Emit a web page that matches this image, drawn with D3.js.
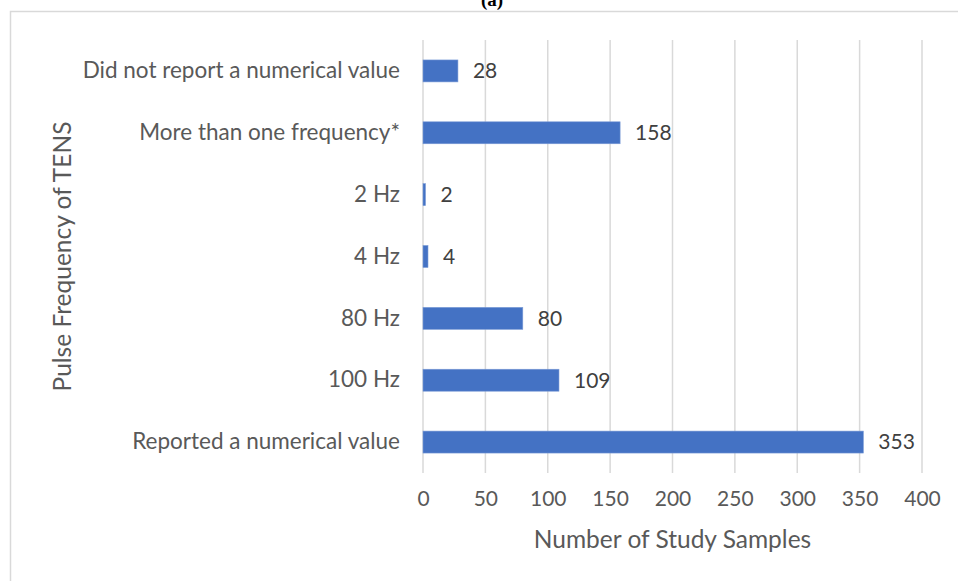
<!DOCTYPE html>
<html>
<head>
<meta charset="utf-8">
<script src="https://cdn.jsdelivr.net/npm/d3@7"></script>
<style>
  body { margin: 0; background: #fff; }
  svg { display: block; font-family: Lato, "Open Sans", sans-serif; }
</style>
</head>
<body>
<svg id="chart" width="958" height="581"></svg>
<script>
// data, top row first
const categories = ["Did not report a numerical value", "More than one frequency*", "2 Hz", "4 Hz", "80 Hz", "100 Hz", "Reported a numerical value"];
const samples = [28, 158, 2, 4, 80, 109, 353];
const xTicks = [0, 50, 100, 150, 200, 250, 300, 350, 400];

const svg = d3.select("#chart");
const margin = {top: 40, right: 36, bottom: 108, left: 423};
const width = 958 - margin.left - margin.right,
      height = 581 - margin.top - margin.bottom;
const font = "Lato, 'Open Sans', sans-serif";

// outer frame of the figure
svg.append("rect")
    .attr("x", 10.5).attr("y", 11.5)
    .attr("width", 1000).attr("height", 700)
    .attr("fill", "none")
    .attr("stroke", "#d9d9d9")
    .attr("stroke-width", 1.5);

// panel label cut at the top edge
svg.append("text")
    .attr("x", 492).attr("y", 6)
    .attr("text-anchor", "middle")
    .style("font", "bold 19px 'Liberation Serif', serif")
    .attr("fill", "#000")
    .text("(a)");

const g = svg.append("g").attr("transform", "translate(" + margin.left + "," + margin.top + ")");

const x = d3.scaleLinear().domain([0, 400]).range([0, width]);
const y = d3.scaleBand().domain(categories).range([0, height]).paddingInner(0.645).paddingOuter(0.3225);

// vertical gridlines
g.selectAll(".grid")
    .data(xTicks)
  .enter().append("line")
    .attr("class", "grid")
    .attr("x1", function(d) { return x(d); })
    .attr("x2", function(d) { return x(d); })
    .attr("y1", 0)
    .attr("y2", height)
    .attr("stroke", "#d9d9d9")
    .attr("stroke-width", 1.5);

// x tick labels
const xAxis = g.append("g")
    .attr("transform", "translate(0," + height + ")")
    .call(d3.axisBottom(x).tickValues(xTicks).tickSize(0).tickPadding(18))
    .attr("font-family", font)
    .attr("font-size", 21);
xAxis.select(".domain").remove();
xAxis.selectAll("text").attr("fill", "#595959");

// category labels
const yAxis = g.append("g")
    .call(d3.axisLeft(y).tickSize(0).tickPadding(23))
    .attr("font-family", font)
    .attr("font-size", 22.5);
yAxis.select(".domain").remove();
yAxis.selectAll("text").attr("fill", "#595959");

// bars
g.selectAll(".bar")
    .data(categories)
  .enter().append("rect")
    .attr("class", "bar")
    .attr("x", x(0))
    .attr("y", function(d) { return y(d); })
    .attr("width", function(d, i) { return x(samples[i]) - x(0); })
    .attr("height", y.bandwidth())
    .attr("fill", "#4472c4")
    .attr("stroke", "#7a9bd6")
    .attr("stroke-width", 0.6);

// value labels
g.selectAll(".value")
    .data(categories)
  .enter().append("text")
    .attr("class", "value")
    .attr("x", function(d, i) { return x(samples[i]) + 15; })
    .attr("y", function(d) { return y(d) + y.bandwidth() / 2; })
    .attr("dy", "0.35em")
    .style("font-size", "21px")
    .attr("fill", "#404040")
    .text(function(d, i) { return samples[i]; });

// axis titles
g.append("text")
    .attr("x", width / 2)
    .attr("y", height + 75)
    .attr("text-anchor", "middle")
    .style("font-size", "24.5px")
    .attr("fill", "#595959")
    .text("Number of Study Samples");

g.append("text")
    .attr("transform", "rotate(-90)")
    .attr("x", -height / 2)
    .attr("y", 62 - margin.left)
    .attr("dy", "0.35em")
    .attr("text-anchor", "middle")
    .style("font-size", "24.5px")
    .attr("fill", "#595959")
    .text("Pulse Frequency of TENS");
</script>
</body>
</html>
